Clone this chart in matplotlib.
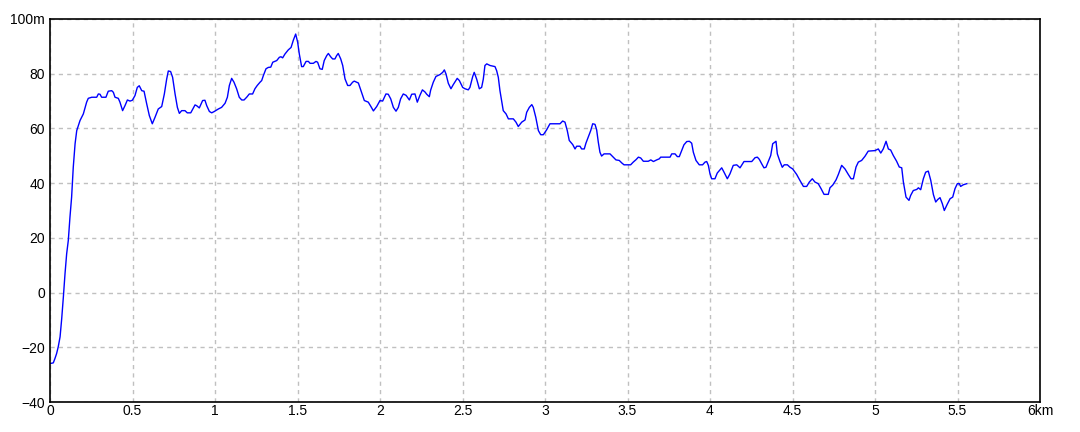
import matplotlib
matplotlib.use("Agg")
import matplotlib.pyplot as plt

# distance along the route (km) and elevation (m)
dist_km = [
    0.004, 0.02, 0.03, 0.04, 0.05, 0.061, 0.071, 0.081, 0.091, 0.101,
    0.111, 0.121, 0.131, 0.141, 0.152, 0.162, 0.182, 0.202, 0.222, 0.232,
    0.253, 0.283, 0.293, 0.303, 0.313, 0.339, 0.353, 0.374, 0.384, 0.394,
    0.414, 0.424, 0.44, 0.455, 0.469, 0.485, 0.499, 0.515, 0.529, 0.541,
    0.556, 0.57, 0.586, 0.602, 0.62, 0.636, 0.656, 0.677, 0.693, 0.707,
    0.717, 0.731, 0.743, 0.758, 0.772, 0.784, 0.798, 0.818, 0.832, 0.853,
    0.879, 0.889, 0.905, 0.925, 0.939, 0.95, 0.966, 0.98, 0.996, 1.02,
    1.04, 1.061, 1.075, 1.087, 1.101, 1.115, 1.131, 1.147, 1.162, 1.176,
    1.192, 1.208, 1.228, 1.242, 1.256, 1.273, 1.283, 1.293, 1.309, 1.323,
    1.338, 1.35, 1.374, 1.39, 1.4, 1.41, 1.424, 1.444, 1.461, 1.475,
    1.489, 1.501, 1.511, 1.525, 1.535, 1.552, 1.566, 1.576, 1.596, 1.612,
    1.622, 1.636, 1.65, 1.662, 1.677, 1.687, 1.701, 1.713, 1.727, 1.737,
    1.747, 1.762, 1.774, 1.788, 1.804, 1.818, 1.834, 1.844, 1.869, 1.885,
    1.905, 1.929, 1.945, 1.96, 1.98, 2.0, 2.016, 2.036, 2.05, 2.065,
    2.081, 2.097, 2.111, 2.125, 2.141, 2.158, 2.178, 2.192, 2.212, 2.226,
    2.242, 2.257, 2.273, 2.283, 2.299, 2.307, 2.323, 2.339, 2.364, 2.38,
    2.39, 2.4, 2.414, 2.43, 2.444, 2.468, 2.481, 2.501, 2.515, 2.535,
    2.545, 2.562, 2.571, 2.586, 2.602, 2.616, 2.626, 2.636, 2.647, 2.667,
    2.697, 2.707, 2.717, 2.727, 2.737, 2.747, 2.764, 2.778, 2.808, 2.824,
    2.838, 2.859, 2.879, 2.889, 2.905, 2.92, 2.929, 2.944, 2.96, 2.974,
    2.99, 3.01, 3.03, 3.091, 3.107, 3.121, 3.135, 3.147, 3.168, 3.182,
    3.192, 3.212, 3.222, 3.238, 3.248, 3.263, 3.277, 3.289, 3.303, 3.313,
    3.323, 3.333, 3.343, 3.358, 3.394, 3.41, 3.43, 3.45, 3.465, 3.479,
    3.519, 3.535, 3.552, 3.566, 3.58, 3.596, 3.626, 3.641, 3.657, 3.677,
    3.693, 3.701, 3.758, 3.768, 3.788, 3.802, 3.814, 3.828, 3.842, 3.859,
    3.875, 3.889, 3.899, 3.915, 3.935, 3.955, 3.97, 3.98, 3.99, 4.0,
    4.01, 4.03, 4.044, 4.071, 4.085, 4.105, 4.121, 4.141, 4.162, 4.182,
    4.206, 4.253, 4.273, 4.287, 4.299, 4.313, 4.327, 4.339, 4.353, 4.368,
    4.38, 4.4, 4.408, 4.424, 4.438, 4.45, 4.469, 4.485, 4.501, 4.525,
    4.545, 4.566, 4.586, 4.602, 4.62, 4.636, 4.656, 4.673, 4.691, 4.717,
    4.727, 4.744, 4.764, 4.778, 4.798, 4.818, 4.838, 4.855, 4.869, 4.885,
    4.899, 4.919, 4.939, 4.959, 5.0, 5.02, 5.035, 5.05, 5.067, 5.081,
    5.095, 5.111, 5.131, 5.147, 5.162, 5.172, 5.188, 5.206, 5.216, 5.232,
    5.253, 5.263, 5.277, 5.293, 5.307, 5.323, 5.338, 5.354, 5.368, 5.38,
    5.394, 5.408, 5.42, 5.438, 5.455, 5.471, 5.485, 5.499, 5.511, 5.519,
    5.535, 5.556,
]
elev_m = [
    -25.9, -25.7, -24.1, -22.3, -19.8, -16.2, -9.5, -1.6, 6.9, 14.2,
    19.1, 27.6, 34.9, 45.8, 54.4, 59.2, 62.9, 65.3, 69.6, 71,
    71.4, 71.4, 72.6, 72.5, 71.4, 71.4, 73.6, 73.8, 73.2, 71.4,
    71, 69.6, 66.5, 68.4, 70.4, 70, 70.3, 72, 75, 75.6,
    73.8, 73.6, 69, 64.7, 61.7, 64, 67.1, 68, 72.6, 78,
    81, 80.8, 78.7, 72.6, 67.7, 65.5, 66.5, 66.5, 65.7, 65.7,
    68.6, 68.3, 67.5, 70.2, 70.3, 68.3, 66.2, 65.7, 66.2, 67.1,
    67.7, 69.2, 71.4, 75.7, 78.3, 76.9, 74.5, 71.4, 70.4, 70.4,
    71.4, 72.6, 72.6, 74.5, 75.7, 76.9, 77.5, 79.3, 81.8, 82.3,
    82.4, 84.2, 84.8, 86, 86.2, 85.8, 87.2, 88.7, 89.6, 92.3,
    94.5, 91.5, 87.2, 82.6, 82.6, 84.5, 84.5, 83.8, 83.8, 84.5,
    84.2, 81.8, 81.6, 84.8, 86.6, 87.4, 86.2, 85.4, 85.4, 86.6,
    87.4, 85.4, 83, 78.1, 75.7, 75.7, 76.9, 77.3, 76.6, 73.8,
    70.2, 69.6, 68, 66.4, 68, 70.2, 70, 72.6, 72.5, 70.8,
    67.7, 66.3, 67.7, 70.8, 72.6, 72.1, 70.4, 72.5, 72.6, 69.6,
    72.1, 74.1, 73.3, 72.5, 71.6, 74, 76.9, 79, 79.7, 80.5,
    81.4, 79.9, 76.5, 74.5, 76, 78.3, 77.5, 75, 74.5, 74.1,
    75, 79, 80.5, 78, 74.5, 75, 78, 83, 83.6, 83,
    82.6, 81.1, 78.7, 73.8, 70.2, 66.5, 65.3, 63.5, 63.5, 62.3,
    60.7, 62.3, 63.1, 65.9, 67.7, 68.7, 67.7, 64.1, 59.2, 57.7,
    57.7, 59.5, 61.7, 61.7, 62.7, 62.3, 59.2, 55.6, 54.1, 52.5,
    53.5, 53.5, 52.5, 52.5, 54.6, 57, 59.2, 61.7, 61.5, 59.5,
    55, 51.3, 49.9, 50.7, 50.7, 49.7, 48.5, 48.3, 47.4, 46.7,
    46.7, 47.7, 48.6, 49.5, 49.2, 48, 48, 48.5, 47.9, 48.5,
    48.9, 49.5, 49.5, 50.7, 50.7, 49.7, 49.7, 51.9, 54, 55.2,
    55.3, 54.6, 51.3, 48.3, 46.7, 46.7, 47.7, 47.9, 46.5, 43.4,
    41.6, 41.6, 43.7, 45.6, 44, 41.6, 43.4, 46.5, 46.7, 45.6,
    47.9, 47.9, 49.3, 49.5, 48.7, 47.1, 45.6, 45.8, 47.9, 50.1,
    54.4, 55.3, 50.7, 47.9, 45.8, 46.7, 46.7, 45.8, 45.2, 43.2,
    41, 38.8, 38.8, 40.4, 41.6, 40.4, 39.8, 38, 35.9, 35.9,
    38.3, 39.3, 41.2, 43.2, 46.5, 45.2, 43.2, 41.6, 41.6, 45.9,
    47.7, 48.3, 49.8, 51.7, 51.9, 52.5, 51, 52.5, 55.3, 52.5,
    52.1, 50.1, 48, 45.9, 45.6, 40.4, 34.9, 33.7, 35.5, 37.3,
    37.7, 38.3, 37.6, 41.6, 44, 44.4, 41, 35.8, 33.1, 34,
    34.7, 32.5, 30, 32.3, 34.3, 34.9, 38, 39.8, 39.8, 38.8,
    39.4, 39.8,
]

x_ticks = [0, 0.5, 1, 1.5, 2, 2.5, 3, 3.5, 4, 4.5, 5, 5.5, 6]
x_labels = ["0", "0.5", "1", "1.5", "2", "2.5", "3", "3.5", "4", "4.5", "5", "5.5", "6km"]
y_ticks = [-40, -20, 0, 20, 40, 60, 80, 100]
y_labels = ["\u221240", "\u221220", "0", "20", "40", "60", "80", "100m"]

plt.rcParams["font.family"] = ["Liberation Sans Narrow", "Liberation Sans", "DejaVu Sans"]

fig = plt.figure(figsize=(10.8, 4.32), dpi=100)
ax = fig.add_axes([50 / 1080, 1 - 402 / 432, 990 / 1080, 383 / 432])

ax.plot(dist_km, elev_m, color="#0000ff", linewidth=1.0)

ax.set_xlim(0, 6)
ax.set_ylim(-40, 100)
ax.set_xticks(x_ticks)
ax.set_xticklabels(x_labels)
ax.set_yticks(y_ticks)
ax.set_yticklabels(y_labels)
ax.tick_params(length=0, labelsize=10, colors="black")
ax.tick_params(axis="x", pad=1.5)
ax.tick_params(axis="y", pad=3.5)

ax.grid(True, color="#c0c0c0", linestyle=(0, (3, 3)), linewidth=1)
for s in ax.spines.values():
    s.set_color("black")
    s.set_linewidth(1.2)

fig.savefig("out.png", dpi=100, facecolor="white")
